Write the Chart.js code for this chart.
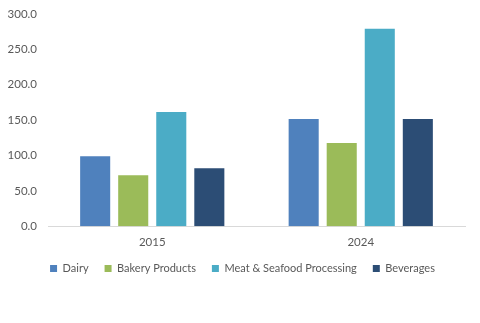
<!DOCTYPE html>
<html>
<head>
<meta charset="utf-8">
<script src="https://cdn.jsdelivr.net/npm/chart.js@4"></script>
<style>
  html, body { margin: 0; padding: 0; background: #fff; }
  #wrap { width: 480px; height: 323px; }
</style>
</head>
<body>
<div id="wrap"><canvas id="chart"></canvas></div>
<script>
var years = ['2015', '2024'];
var dairy = [99.0, 151.5];
var bakery = [72.0, 117.5];
var meatSeafood = [161.5, 279.0];
var beverages = [82.0, 151.5];
var yTicks = [0, 50, 100, 150, 200, 250, 300];

Chart.defaults.font.family = 'Lato, "Open Sans", sans-serif';
Chart.defaults.font.size = 11.5;
Chart.defaults.color = '#595959';

// nudge the legend up/right so it sits where the original one does
var legendNudge = {
    id: 'legendNudge',
    afterLayout: function (chart) {
        var lg = chart.legend;
        lg.top -= 11; lg.bottom -= 11;
        lg.left += 10; lg.right += 10;
    }
};

var ctx = document.getElementById('chart').getContext('2d');
var newChart = new Chart(ctx, {
    type: 'bar',
    data: {
        labels: years,
        datasets: [
            { label: 'Dairy', data: dairy, backgroundColor: '#4f81bd' },
            { label: 'Bakery Products', data: bakery, backgroundColor: '#9bbb59' },
            { label: 'Meat & Seafood Processing', data: meatSeafood, backgroundColor: '#4bacc6' },
            { label: 'Beverages', data: beverages, backgroundColor: '#2c4d75' }
        ]
    },
    options: {
        responsive: true,
        maintainAspectRatio: false,
        animation: false,
        datasets: {
            bar: { categoryPercentage: 0.73, barPercentage: 0.79 }
        },
        layout: { padding: { left: 0, right: 15, top: 14, bottom: 28 } },
        plugins: {
            legend: {
                position: 'bottom',
                labels: { boxWidth: 7, boxHeight: 7, padding: 16, font: { size: 11 } }
            },
            tooltip: { enabled: false }
        },
        scales: {
            x: {
                grid: { display: false, drawTicks: false },
                border: { color: '#d9d9d9' },
                ticks: { padding: 9 }
            },
            y: {
                min: 0,
                max: 300,
                grid: { display: false, drawTicks: false },
                border: { display: false },
                afterBuildTicks: function (scale) {
                    scale.ticks = yTicks.map(function (v) { return { value: v }; });
                },
                afterFit: function (scale) {
                    scale.width = 48;
                    scale.paddingTop = 0;
                    scale.paddingBottom = 0;
                },
                ticks: {
                    padding: 11,
                    callback: function (v) { return v.toFixed(1); }
                }
            }
        }
    },
    plugins: [legendNudge]
});
</script>
</body>
</html>
